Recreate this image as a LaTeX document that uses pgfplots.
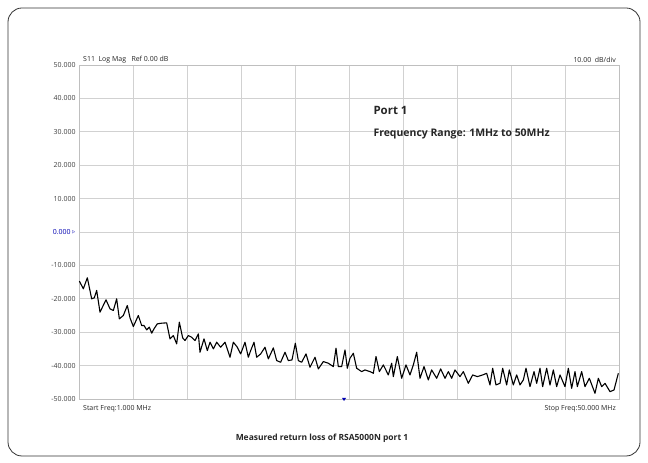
\documentclass[border=0pt]{standalone}
\usepackage{pgfplots}
\pgfplotsset{compat=1.18}
\usepackage{fontspec}
\setmainfont{Open Sans}
\begin{document}
\begin{tikzpicture}[x=1bp,y=1bp]
\fill[white] (0,0) rectangle (648,463);
\draw[black!80, line width=0.8pt, rounded corners=14bp] (8,7) rectangle (640,455);
\begin{axis}[at={(79bp,64bp)}, anchor=south west, scale only axis,
  width=540bp, height=334bp,
  xmin=79, xmax=619, ymin=-50, ymax=50,
  xtick={79,133,187,241,295,349,403,457,511,565,619}, xticklabels={},
  ytick={-50,-40,...,50},
  grid=both, major grid style={black!18, line width=0.6pt},
  axis line style={black!25}, tick style={draw=none},
  yticklabel style={font=\fontsize{7}{8}\selectfont, text=black!75},
  yticklabel={\ifdim\tick pt=0pt \textcolor{blue!70!black}{\pgfmathprintnumber[fixed,fixed zerofill,precision=3]{\tick}\,\raisebox{0.3ex}{\tiny$\triangleright$}}\else\pgfmathprintnumber[fixed,fixed zerofill,precision=3]{\tick}\fi},
  /pgf/number format/assume math mode=true,
  clip=false]
\addplot[black, line width=1.1pt, line join=round] table[x expr=\thisrowno{0}/3, y index=1] {
238 -14.7
250 -17
262 -13.7
275 -20
283 -19.7
290 -17.5
300 -24
318 -20.3
330 -23
340 -23.5
350 -20
358 -26
370 -25
382 -22
390 -25.7
400 -28.3
415 -25
425 -28
432 -28
440 -29.3
448 -28.5
455 -30.3
462 -29
472 -27.5
485 -27.3
500 -27.2
510 -32
520 -31
530 -33.5
538 -27
548 -31.7
555 -32.5
565 -31
575 -31.5
585 -32.5
595 -30.5
600 -36
612 -32
622 -35.5
630 -33
640 -35
650 -33
662 -34.5
675 -33
690 -37.5
700 -33
712 -34.5
722 -36.5
735 -33
745 -37.5
752 -35.5
762 -33
770 -37.5
782 -36.5
795 -34.5
805 -38
820 -34.7
830 -38.5
842 -39
855 -36
865 -38.5
876 -38.3
886 -33.3
895 -38.5
905 -39
918 -36.5
930 -40.5
945 -37.5
955 -41
970 -38.8
985 -39.3
1000 -40.3
1008 -34.8
1015 -40.3
1025 -40.3
1035 -35.3
1042 -40.8
1050 -37.8
1060 -36.3
1070 -40.8
1085 -41.8
1095 -41.3
1110 -41.8
1120 -42.3
1128 -37.3
1138 -41.8
1150 -39.8
1165 -42.8
1175 -39.3
1180 -43.3
1192 -37.3
1205 -43.8
1218 -39.8
1230 -42.8
1240 -39.8
1250 -36
1260 -43.8
1272 -40.3
1285 -44.3
1295 -41.3
1310 -43.8
1322 -41
1335 -43.8
1345 -41.8
1355 -43.8
1365 -41.3
1380 -43.3
1390 -41.8
1405 -45.3
1418 -42.8
1432 -43.3
1448 -42.8
1460 -42.3
1470 -45.8
1478 -40.8
1488 -45.8
1500 -45.3
1508 -40.8
1520 -45.8
1528 -41.3
1540 -45.8
1550 -42.8
1560 -45.8
1570 -44.3
1578 -40.8
1590 -46.3
1602 -41.8
1610 -45.3
1620 -40.8
1628 -46.3
1640 -40.8
1650 -45.8
1660 -41.3
1670 -46.3
1680 -42.8
1695 -46.3
1705 -40.8
1715 -46.8
1725 -41.8
1732 -46.3
1745 -41.8
1755 -46.3
1768 -43.8
1785 -48.3
1795 -43.8
1805 -46.3
1815 -45.3
1830 -47.8
1842 -47.3
1855 -42.3
};
\end{axis}
\begin{scope}[font=\fontsize{7}{8}\selectfont, text=black!85]
\node[anchor=south west, inner sep=1pt] at (82,399) {S11\ \ Log Mag\ \ \ Ref 0.00 dB};
\node[anchor=south east, inner sep=1pt] at (617,399) {10.00\ \ dB/div};
\node[anchor=north west, inner sep=1pt] at (82,59) {Start Freq:1.000 MHz};
\node[anchor=north east, inner sep=1pt] at (617,59) {Stop Freq:50.000 MHz};
\end{scope}
\fill[blue!70!black] (344,62) -- (346,65) -- (342,65) -- cycle;
\node[anchor=west, font=\fontsize{11.5}{12}\selectfont\bfseries, text=black!85] at (370,353) {Port 1};
\node[anchor=west, font=\fontsize{10.5}{12}\selectfont\bfseries, text=black!85] at (370,329) {Frequency Range: 1MHz to 50MHz};
\node[font=\fontsize{8.5}{10}\selectfont\bfseries, text=black!85] at (322,25) {Measured return loss of RSA5000N port 1};
\end{tikzpicture}
\end{document}
